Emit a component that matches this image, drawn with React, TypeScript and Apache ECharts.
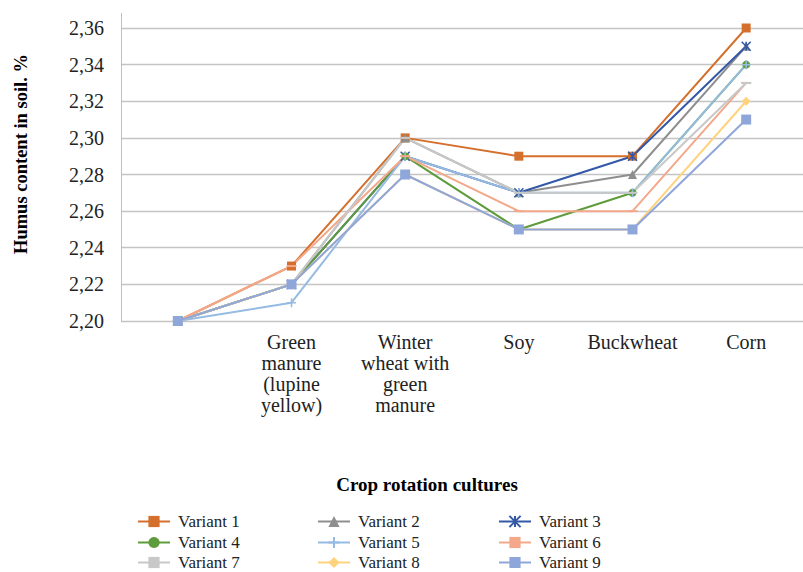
import React, { useEffect, useRef } from "react";
import * as echarts from "echarts";

const categories = ["", "Green\nmanure\n(lupine\nyellow)", "Winter\nwheat with\ngreen\nmanure", "Soy", "Buckwheat", "Corn"];
const variantNames = ["Variant 1", "Variant 2", "Variant 3", "Variant 4", "Variant 5", "Variant 6", "Variant 7", "Variant 8", "Variant 9"];
const v1 = [2.20, 2.23, 2.30, 2.29, 2.29, 2.36];
const v2 = [2.20, 2.22, 2.30, 2.27, 2.28, 2.35];
const v3 = [2.20, 2.22, 2.29, 2.27, 2.29, 2.35];
const v4 = [2.20, 2.22, 2.29, 2.25, 2.27, 2.34];
const v5 = [2.20, 2.21, 2.29, 2.27, 2.27, 2.34];
const v6 = [2.20, 2.23, 2.29, 2.26, 2.26, 2.33];
const v7 = [2.20, 2.22, 2.30, 2.27, 2.27, 2.33];
const v8 = [2.20, 2.22, 2.28, 2.25, 2.25, 2.32];
const v9 = [2.20, 2.22, 2.28, 2.25, 2.25, 2.31];
const yTicks = [2.20, 2.22, 2.24, 2.26, 2.28, 2.30, 2.32, 2.34, 2.36];
const xTitle = "Crop rotation cultures";
const yTitle = "Humus content in soil. %";

const values = [v1, v2, v3, v4, v5, v6, v7, v8, v9];
const colors = ["#D4702C", "#8E8E8E", "#3358A6", "#5E9B3B", "#95BBE2", "#F4A88A", "#C8C8C8", "#FFD27E", "#8FA6DB"];
const dash = "path://M0,4L10,4L10,6L0,6Z";
const symbols: any[] = [
  "rect",
  "triangle",
  "path://M0,0L10,10M10,0L0,10M5,0L5,10",
  "circle",
  "path://M5,0L5,10M0,5L10,5",
  dash,
  dash,
  "diamond",
  "rect",
];
const symbolSizes = [9, 9, 9, 8, 9, 10, 10, 9, 10];
const strokeSymbols = [false, false, true, false, true, false, false, false, false];

const serif = "Liberation Serif";

export default function App() {
  const ref = useRef<HTMLDivElement>(null);
  useEffect(() => {
    if (!ref.current) return;
    const chart = echarts.init(ref.current, null, { renderer: "svg" });
    const series = values.map((d, i) => ({
      name: variantNames[i],
      type: "line",
      data: d,
      symbol: symbols[i],
      symbolSize: symbolSizes[i],
      symbolKeepAspect: true,
      showSymbol: true,
      lineStyle: { color: colors[i], width: 2 },
      itemStyle: strokeSymbols[i]
        ? { color: colors[i], borderColor: colors[i], borderWidth: 1.5 }
        : { color: colors[i], borderWidth: 0 },
      emphasis: { disabled: true },
    }));
    const colX = [137, 317, 498];
    const rowY = [513, 534, 554];
    const legends = variantNames.map((name, i) => ({
      orient: "horizontal",
      left: colX[i % 3],
      top: rowY[Math.floor(i / 3)],
      padding: 0,
      itemWidth: 32,
      itemHeight: 14,
      data: [name],
      textStyle: { fontFamily: serif, fontSize: 17, color: "#222", lineHeight: 17, padding: [0, 0, 0, 3] },
    }));
    chart.setOption({
      animation: false,
      color: colors,
      textStyle: { fontFamily: serif },
      grid: { left: 121, right: -11, top: 28, bottom: 251, containLabel: false },
      xAxis: {
        type: "category",
        data: categories,
        boundaryGap: true,
        axisLine: { show: false },
        axisTick: { show: false },
        axisLabel: {
          interval: 0,
          margin: 10,
          fontFamily: serif,
          fontSize: 20,
          lineHeight: 21,
          color: "#222",
          verticalAlign: "top",
        },
      },
      yAxis: {
        type: "value",
        min: yTicks[0],
        max: yTicks[yTicks.length - 1],
        interval: 0.02,
        axisLine: { show: true, lineStyle: { color: "#BFBFBF", width: 1 } },
        axisTick: { show: false },
        splitLine: { show: true, lineStyle: { color: "#C4C4C4", width: 1.3 } },
        axisLabel: {
          margin: 17,
          fontFamily: serif,
          fontSize: 20,
          color: "#222",
          formatter: (v: number) => v.toFixed(2).replace(".", ","),
        },
      },
      legend: legends,
      graphic: [
        {
          type: "line",
          shape: { x1: 121.5, y1: 13, x2: 121.5, y2: 28 },
          style: { stroke: "#BFBFBF", lineWidth: 1 },
          silent: true,
        },
        {
          type: "text",
          x: 427,
          y: 484,
          style: {
            text: xTitle,
            font: `bold 19px ${serif}`,
            fill: "#000",
            textAlign: "center",
            textVerticalAlign: "middle",
          },
        },
        {
          type: "text",
          x: 21,
          y: 154,
          rotation: Math.PI / 2,
          style: {
            text: yTitle,
            font: `bold 18.5px ${serif}`,
            fill: "#000",
            textAlign: "center",
            textVerticalAlign: "middle",
          },
        },
      ],
      series,
    });
    return () => chart.dispose();
  }, []);
  return <div ref={ref} style={{ position: "fixed", left: 0, top: 0, width: 803, height: 572, background: "#fff" }} />;
}
